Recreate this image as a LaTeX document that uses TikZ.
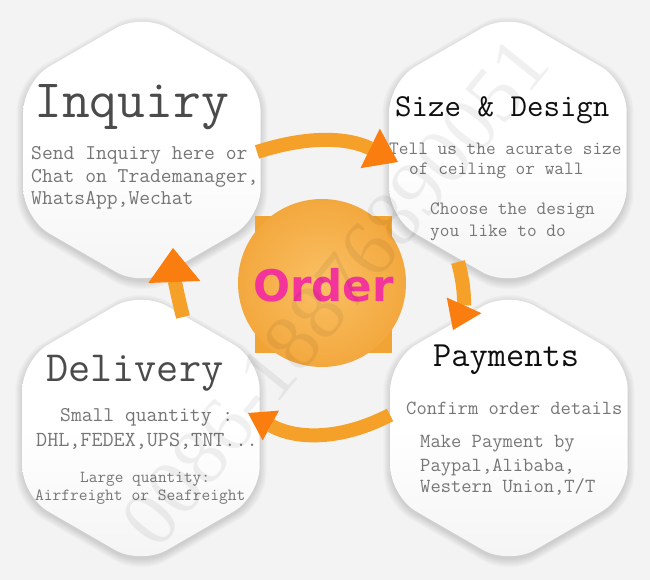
\documentclass[tikz,border=0pt]{standalone}
\usepackage{fontspec}
\usetikzlibrary{shapes.geometric,arrows.meta,calc}
\newfontfamily\orderfont{DejaVu Sans}
\newfontfamily\wmfont{Liberation Serif}
\definecolor{bg}{RGB}{243,243,243}
\definecolor{shaftorange}{RGB}{245,160,40}
\definecolor{headorange}{RGB}{250,125,15}
\definecolor{discA}{RGB}{250,192,100}
\definecolor{discB}{RGB}{243,168,62}
\definecolor{discSq}{RGB}{241,163,52}
\definecolor{pinkord}{RGB}{242,52,155}
\definecolor{headgray}{RGB}{75,75,75}
\definecolor{headblack}{RGB}{15,15,15}
\definecolor{bodygray}{RGB}{118,118,118}
\definecolor{hexlow}{RGB}{244,244,244}
\tikzset{
  hexshape/.style={regular polygon, regular polygon sides=6, shape border rotate=30,
    minimum size=274pt, rounded corners=30pt, inner sep=0pt, draw=none},
  hexcard/.style={hexshape, top color=white, bottom color=hexlow, middle color=white},
  hexshade/.style={hexshape, fill=black, fill opacity=0.016},
  headtxt/.style={anchor=base west, inner sep=0pt, font=\ttfamily\fontsize{#1}{#1}\selectfont},
  bodytxt/.style={anchor=base west, inner sep=0pt, text=bodygray, font=\ttfamily\fontsize{#1}{#1}\selectfont},
  flow/.style={draw=shaftorange, line width=14pt},
}
\newcommand\hexshadowat[1]{%
  \foreach \s in {1,...,9}{\node[hexshade, minimum size=272pt+2pt*\s] at ($(#1)+(0,-3)$) {};}}
\begin{document}
\begin{tikzpicture}[x=1pt,y=1pt]
\useasboundingbox (0,0) rectangle (650,580);
\fill[bg] (0,0) rectangle (650,580);

% hexagon centres
\coordinate (pInq) at (142,430);
\coordinate (pSize) at (508,430);
\coordinate (pDel) at (141,152);
\coordinate (pPay) at (509,152);

\hexshadowat{pInq}
\hexshadowat{pSize}
\hexshadowat{pDel}
\hexshadowat{pPay}

\node[hexcard] (inq) at (pInq) {};
\node[hexcard] (size) at (pSize) {};
\node[hexcard] (del) at (pDel) {};
\node[hexcard] (pay) at (pPay) {};

% Inquiry
\node[headtxt=54, text=headgray] (tInq) at (34,462) {Inquiry};
\node[bodytxt=21] (i1) at (31,420) {Send Inquiry here or};
\node[bodytxt=21] (i2) at (31,397) {Chat on Trademanager,};
\node[bodytxt=21] (i3) at (31,375) {WhatsApp,Wechat};

% Size & Design
\node[headtxt=32, text=headblack] (tSize) at (395,463) {Size \& Design};
\node[bodytxt=18.8] (s1) at (389,425) {Tell us the acurate size};
\node[bodytxt=18.8] (s2) at (409,405) {of ceiling or wall};
\node[bodytxt=18.8] (s3) at (430,365) {Choose the design};
\node[bodytxt=18.8] (s4) at (430,343) {you like to do};

% Delivery
\node[headtxt=43, text=headgray] (tDel) at (46,198) {Delivery};
\node[bodytxt=21] (d1) at (60,158) {Small quantity :};
\node[bodytxt=21.5] (d2) at (36,133) {DHL,FEDEX,UPS,TNT...};
\node[bodytxt=16.8] (d3) at (80,97) {Large quantity:};
\node[bodytxt=17] (d4) at (35,79) {Airfreight or Seafreight};

% Payments
\node[headtxt=35.4, text=headblack] (tPay) at (433,213) {Payments};
\node[bodytxt=20] (p1) at (406,165) {Confirm order details};
\node[bodytxt=20] (p2) at (420,132) {Make Payment by};
\node[bodytxt=20] (p3) at (420,108) {Paypal,Alibaba,};
\node[bodytxt=20] (p4) at (420,87) {Western Union,T/T};

% arrows
\coordinate (a1s) at (257,428);
\coordinate (a1e) at (398,418);
\coordinate (a2s) at (458,318);
\coordinate (a2e) at (453,250);
\coordinate (a3s) at (390,165);
\coordinate (a3e) at (248,167);
\coordinate (a4s) at (183,263);
\coordinate (a4e) at (173,332);
\draw[flow, -{Triangle[width=44pt,length=31pt,line width=0pt,color=headorange]}] (a1s) to[bend left=22] (a1e);
\draw[flow, -{Triangle[width=38pt,length=27pt,line width=0pt,color=headorange]}] (a2s) to[bend left=20] (a2e);
\draw[flow, -{Triangle[width=34pt,length=26pt,line width=0pt,color=headorange]}] (a3s) to[bend left=28] (a3e);
\draw[flow, -{Triangle[width=52pt,length=34pt,line width=0pt,color=headorange]}] (a4s) to[bend left=6] (a4e);

% centre disc
\node[rectangle, fill=discSq, minimum size=137pt, inner sep=0pt] (ordersq) at (323,295) {};
\node[circle, inner color=discA, outer color=discB, minimum size=168pt, inner sep=0pt] (order) at (322,297) {};
\node[anchor=base, inner sep=0pt, text=pinkord, font=\orderfont\bfseries\fontsize{43.5}{43.5}\selectfont] (tOrder) at (323.5,278) {Order};

% watermark
\node[rotate=51, text=black, opacity=0.06, font=\wmfont\fontsize{80}{80}\selectfont] (wm) at (335,288) {0086-18876890051};
\end{tikzpicture}
\end{document}
